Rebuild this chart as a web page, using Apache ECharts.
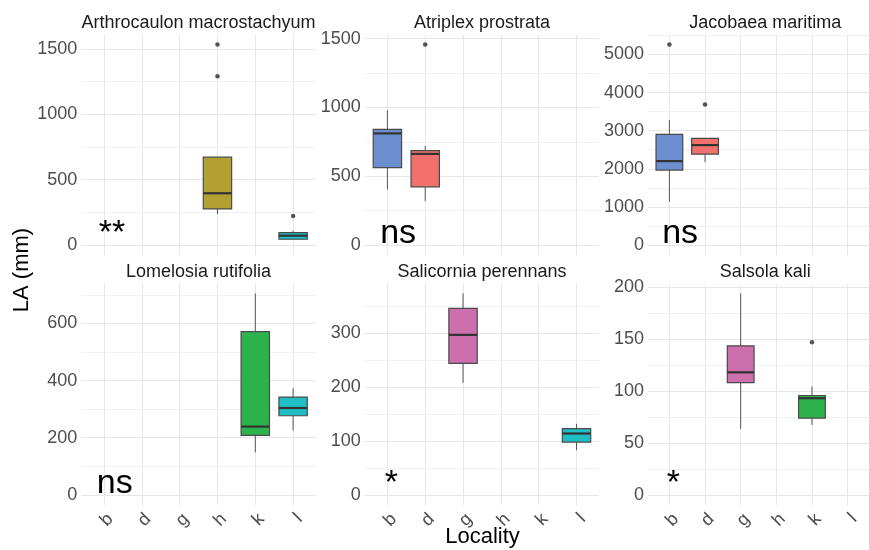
<!DOCTYPE html>
<html>
<head>
<meta charset="utf-8">
<script src="https://cdn.jsdelivr.net/npm/echarts@6/dist/echarts.min.js"></script>
<style>
html,body{margin:0;padding:0;background:#fff;}
#chart{width:869px;height:550px;}
</style>
</head>
<body>
<div id="chart"></div>
<script>
// ---------- data ----------
const localities = ['b', 'd', 'g', 'h', 'k', 'l'];
const localityColors = ['#6b8fd0', '#f3716c', '#cc6fac', '#b3a033', '#2db34b', '#1fbec4'];
const species = ['Arthrocaulon macrostachyum', 'Atriplex prostrata', 'Jacobaea maritima',
                 'Lomelosia rutifolia', 'Salicornia perennans', 'Salsola kali'];
const significance = ['**', 'ns', 'ns', 'ns', '*', '*'];

// box stats: [locality index, lower whisker, Q1, median, Q3, upper whisker]
const arthrocaulonBoxes = [[3, 237, 276, 396, 672, 672], [5, 44, 44, 71, 94, 110]];
const arthrocaulonOutliers = [[3, 1293], [3, 1535], [5, 222]];
const atriplexBoxes = [[0, 404, 562, 811, 840, 980], [1, 319, 423, 662, 686, 721]];
const atriplexOutliers = [[1, 1457]];
const jacobaeaBoxes = [[0, 1136, 1966, 2202, 2902, 3277], [1, 2176, 2386, 2622, 2797, 2797]];
const jacobaeaOutliers = [[0, 5262], [1, 3688]];
const lomelosiaBoxes = [[4, 149, 208, 239, 571, 705], [5, 225, 277, 304, 342, 373]];
const lomelosiaOutliers = [];
const salicorniaBoxes = [[2, 208, 244, 297, 346, 374], [5, 83, 98, 114, 123, 132]];
const salicorniaOutliers = [];
const salsolaBoxes = [[2, 63.6, 108, 118, 143.5, 194], [4, 67.4, 73.9, 93.1, 95.7, 104.3]];
const salsolaOutliers = [[4, 147]];

// y tick labels per panel
const yTicksArthrocaulon = [0, 500, 1000, 1500];
const yTicksAtriplex = [0, 500, 1000, 1500];
const yTicksJacobaea = [0, 1000, 2000, 3000, 4000, 5000];
const yTicksLomelosia = [0, 200, 400, 600];
const yTicksSalicornia = [0, 100, 200, 300];
const yTicksSalsola = [0, 50, 100, 150, 200];

// ---------- assembly ----------
const panelBoxes = [arthrocaulonBoxes, atriplexBoxes, jacobaeaBoxes, lomelosiaBoxes, salicorniaBoxes, salsolaBoxes];
const panelOutliers = [arthrocaulonOutliers, atriplexOutliers, jacobaeaOutliers, lomelosiaOutliers, salicorniaOutliers, salsolaOutliers];
const panelTicks = [yTicksArthrocaulon, yTicksAtriplex, yTicksJacobaea, yTicksLomelosia, yTicksSalicornia, yTicksSalsola];

const FONT = '"Liberation Sans", Arial, Helvetica, sans-serif';
const colLeft = [81.3, 364.7, 648];
const panelWidth = 234.5;
const rowTop = [34.5, 283.3];
const rowHeight = [220.5, 221.7];

const measureCtx = document.createElement('canvas').getContext('2d');
function textWidth(t, size) { measureCtx.font = size + 'px ' + FONT; return measureCtx.measureText(t).width; }

const grids = [], xAxes = [], yAxes = [], series = [], graphics = [];

for (let p = 0; p < 6; p++) {
  const col = p % 3, row = Math.floor(p / 3);
  grids.push({ left: colLeft[col], top: rowTop[row], width: panelWidth, height: rowHeight[row], containLabel: false });

  const majors = panelTicks[p];
  const step = majors[1] - majors[0];
  let ymax = 0;
  panelBoxes[p].forEach(b => { ymax = Math.max(ymax, b[5]); });
  panelOutliers[p].forEach(o => { ymax = Math.max(ymax, o[1]); });
  const ymin = 0;
  const range = ymax - ymin;
  const lo = ymin - 0.05 * range, hi = ymax + 0.05 * range;
  const all = [];
  for (let v = majors[0]; v <= hi; v += step / 2) all.push(v);

  xAxes.push({
    type: 'value', gridIndex: p, min: -0.6, max: 5.6,
    axisLine: { show: false },
    axisTick: { show: false, customValues: [0, 1, 2, 3, 4, 5] },
    axisLabel: {
      show: row === 1, customValues: [0, 1, 2, 3, 4, 5],
      formatter: v => localities[Math.round(v)],
      rotate: 45, margin: 5, verticalAlign: 'top', color: '#4d4d4d', fontSize: 18, fontFamily: FONT
    },
    splitLine: { show: true, lineStyle: { color: '#e8e8e8', width: 1 } }
  });
  yAxes.push({
    type: 'value', gridIndex: p, min: lo, max: hi,
    axisLine: { show: false },
    axisTick: { show: false, customValues: all },
    axisLabel: { customValues: majors, formatter: v => String(Math.round(v)), margin: 4, color: '#4d4d4d', fontSize: 18, fontFamily: FONT },
    splitLine: { show: true, lineStyle: { color: ['#e6e6e6', '#f1f1f1'], width: 1 } }
  });

  series.push({
    type: 'custom', xAxisIndex: p, yAxisIndex: p,
    data: panelBoxes[p],
    encode: { x: 0, y: [1, 2, 3, 4, 5] },
    renderItem: function (params, api) {
      const x = api.value(0);
      const pts = [1, 2, 3, 4, 5].map(d => api.coord([x, api.value(d)]));
      const cx = pts[0][0];
      const hw = api.size([0.75, 0])[0] / 2;
      const color = localityColors[x];
      return {
        type: 'group', children: [
          { type: 'line', shape: { x1: cx, y1: pts[0][1], x2: cx, y2: pts[1][1] }, style: { stroke: '#555', lineWidth: 1 } },
          { type: 'line', shape: { x1: cx, y1: pts[3][1], x2: cx, y2: pts[4][1] }, style: { stroke: '#555', lineWidth: 1 } },
          { type: 'rect', shape: { x: cx - hw, y: pts[3][1], width: 2 * hw, height: pts[1][1] - pts[3][1] },
            style: { fill: color, stroke: '#4a4a4a', lineWidth: 1.2 } },
          { type: 'line', shape: { x1: cx - hw, y1: pts[2][1], x2: cx + hw, y2: pts[2][1] }, style: { stroke: '#333', lineWidth: 2.2 } }
        ]
      };
    },
    silent: true, z: 3
  });
  series.push({
    type: 'scatter', xAxisIndex: p, yAxisIndex: p,
    data: panelOutliers[p], symbolSize: 4.5,
    itemStyle: { color: '#2b2b2b' }, silent: true, z: 4
  });
  const label = significance[p];
  series.push({
    type: 'custom', xAxisIndex: p, yAxisIndex: p,
    data: [[0, 0]],
    renderItem: function (params, api) {
      const c = api.coord([api.value(0), api.value(1)]);
      const w = textWidth(label, 34);
      return {
        type: 'text',
        style: { text: label, x: c[0] - 0.2 * w, y: c[1] - 0.3465 * 34, align: 'left', verticalAlign: 'middle',
                 font: '34px ' + FONT, fill: '#000' }
      };
    },
    silent: true, z: 5
  });

  graphics.push({
    type: 'text', x: colLeft[col] + panelWidth / 2, y: (row === 0 ? 29.5 : 278.3) - 0.3465 * 18,
    style: { text: species[p], align: 'center', verticalAlign: 'middle', font: '18px ' + FONT, fill: '#1a1a1a' }
  });
}

graphics.push({
  type: 'text', x: 482.5, y: 545 - 0.3465 * 22,
  style: { text: 'Locality', align: 'center', verticalAlign: 'middle', font: '22px ' + FONT, fill: '#000' }
});
graphics.push({
  type: 'text', x: 22, y: 270, rotation: Math.PI / 2,
  style: { text: 'LA (mm)', align: 'center', verticalAlign: 'middle', font: '22px ' + FONT, fill: '#000' }
});

const chart = echarts.init(document.getElementById('chart'), null, { renderer: 'canvas' });
chart.setOption({
  animation: false,
  backgroundColor: '#fff',
  grid: grids, xAxis: xAxes, yAxis: yAxes, series: series, graphic: graphics
});
</script>
</body>
</html>
